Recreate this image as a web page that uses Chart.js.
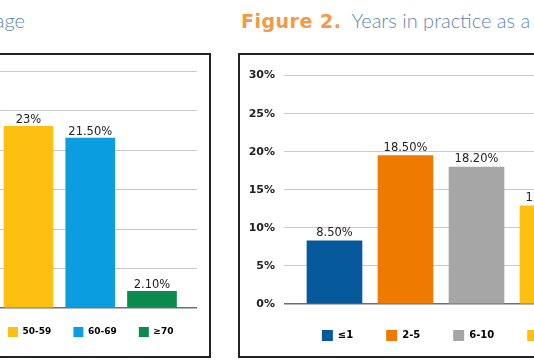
<!DOCTYPE html>
<html>
<head>
<meta charset="utf-8">
<script src="https://cdn.jsdelivr.net/npm/chart.js@4.4.1/dist/chart.umd.min.js"></script>
<style>
  html, body { margin: 0; padding: 0; background: #fff; }
  body { width: 534px; height: 360px; position: relative; overflow: hidden; }
  .frame { position: absolute; box-sizing: border-box; border: 2px solid #222; }
  .cap { position: absolute; white-space: nowrap; font-family: Lato, "Open Sans", sans-serif;
         font-weight: 300; font-size: 20px; line-height: 22px; color: #5f86b4; }
  .cap b { font-family: "DejaVu Sans", sans-serif; font-weight: bold; font-size: 19px;
           letter-spacing: 0.5px; color: #f29a48; margin-right: 10px; }
  .box { position: absolute; }
</style>
</head>
<body>
<div class="cap" style="right: 509px; top: 9px;">age</div>
<div class="cap" style="left: 241px; top: 9px;"><b>Figure 2.</b>Years in practice as a</div>

<div class="frame" style="left: -20px; top: 53px; width: 231px; height: 305px;"></div>
<div class="frame" style="left: 238px; top: 53px; width: 330px; height: 305px;"></div>

<div class="box" style="left: -11px; top: 60px; width: 208px; height: 287px;"><canvas id="ageChart"></canvas></div>
<div class="box" style="left: 241px; top: 60px; width: 379px; height: 291px;"><canvas id="yearChart"></canvas></div>

<script>
// Figure 1 (only the right end is in view)
const ageLabels = ["50-59", "60-69", "≥70"];
const ageValues = [23, 21.5, 2.1];
const ageTexts = ["23%", "21.50%", "2.10%"];
const ageColors = ["#fdc010", "#0a9de0", "#0b8a50"];

// Figure 2 (only the left part is in view)
const yearLabels = ["≤1", "2-5", "6-10", "11-15"];
const yearValues = [8.3, 19.5, 18.0, 12.9];
const yearTexts = ["8.50%", "18.50%", "18.20%", "12.90%"];
const yearColors = ["#065a9b", "#ee7a00", "#a6a6a6", "#fdc010"];

const Y_MAX = 30;
const Y_STEP = 5;

// draws the value above every bar
const valueLabels = {
    id: "valueLabels",
    afterDatasetsDraw(chart, args, opts) {
        const ctx = chart.ctx;
        const meta = chart.getDatasetMeta(0);
        ctx.save();
        ctx.font = opts.font;
        ctx.fillStyle = "#222";
        ctx.textAlign = "center";
        ctx.textBaseline = "alphabetic";
        meta.data.forEach((bar, i) => ctx.fillText(opts.texts[i], bar.x, bar.y - opts.gap));
        ctx.restore();
    }
};

function makeChart(id, labels, values, texts, colors, cfg) {
    return new Chart(document.getElementById(id), {
        type: "bar",
        data: {
            labels: labels,
            datasets: [{
                data: values.map((v, i) => ({ x: i, y: v })),
                backgroundColor: colors,
                borderWidth: 0,
                barThickness: cfg.barWidth
            }]
        },
        options: {
            responsive: true,
            maintainAspectRatio: false,
            animation: false,
            layout: { padding: { top: cfg.padTop } },
            scales: {
                x: { type: "linear", display: false, offset: false, min: cfg.xMin, max: cfg.xMax },
                y: {
                    min: 0, max: Y_MAX,
                    afterFit: cfg.axisWidth ? (s) => { s.width = cfg.axisWidth; } : undefined,
                    border: { display: false },
                    grid: {
                        drawTicks: false,
                        color: (c) => c.tick.value === 0 ? "#6e6e6e" : "#cacaca",
                        lineWidth: (c) => c.tick.value === 0 ? 1.5 : 1
                    },
                    ticks: {
                        display: cfg.showTicks,
                        stepSize: Y_STEP,
                        padding: 9,
                        color: "#222",
                        font: { family: "DejaVu Sans", size: 11, weight: "bold" },
                        callback: (v) => v + "%"
                    }
                }
            },
            plugins: {
                tooltip: { enabled: false },
                valueLabels: { texts: texts, font: "11.5px 'DejaVu Sans'", gap: cfg.labelGap },
                legend: {
                    position: "bottom",
                    fullSize: false,
                    align: cfg.legendAlign,
                    labels: {
                        boxWidth: cfg.legendBox,
                        boxHeight: cfg.legendBox,
                        padding: cfg.legendPad,
                        color: "#333",
                        font: { family: "DejaVu Sans", size: cfg.legendFont, weight: "bold" },
                        generateLabels: () => labels.map((t, i) => ({
                            text: t + cfg.legendTail,
                            fillStyle: colors[i],
                            strokeStyle: colors[i],
                            lineWidth: 0,
                            hidden: false,
                            index: i
                        }))
                    }
                }
            }
        },
        plugins: [valueLabels]
    });
}

makeChart("ageChart", ageLabels, ageValues, ageTexts, ageColors, {
    barWidth: 49, xMin: -0.64, xMax: 2.729, padTop: 11, showTicks: false, axisWidth: 0,
    labelGap: 3, legendAlign: "start", legendBox: 10, legendPad: 19, legendFont: 9, legendTail: " "
});

makeChart("yearChart", yearLabels, yearValues, yearTexts, yearColors, {
    barWidth: 55, xMin: -0.711, xMax: 4.021, padTop: 12, showTicks: true, axisWidth: 43,
    labelGap: 5, legendAlign: "center", legendBox: 11, legendPad: 26, legendFont: 10, legendTail: "  "
});
</script>
</body>
</html>
